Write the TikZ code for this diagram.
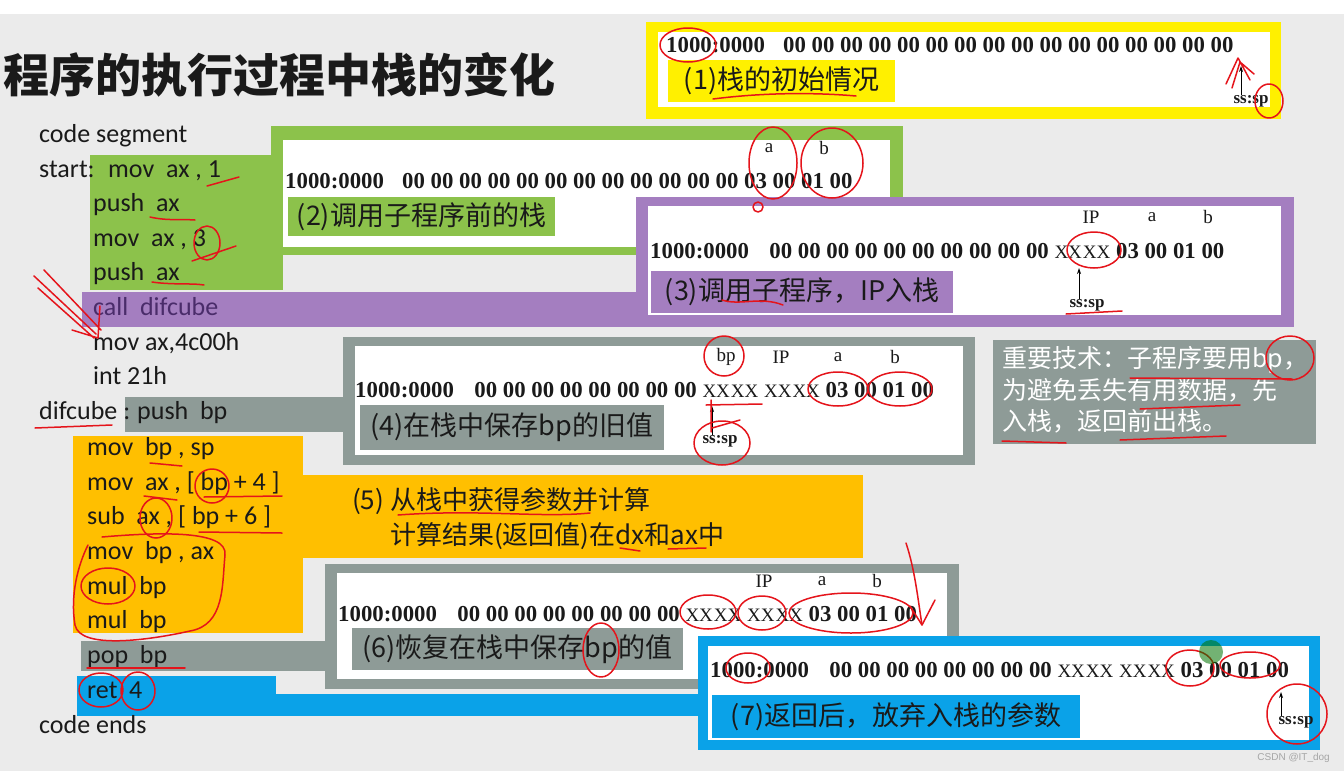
\documentclass[tikz,border=0pt]{standalone}
\usepackage{fontspec}
\setmainfont{Liberation Serif}
\newfontfamily\cjk{Noto Sans CJK SC}
\newfontfamily\codef{Carlito}
\newfontfamily\tms{Liberation Serif}
\newfontfamily\wmf{Liberation Sans}
\usetikzlibrary{arrows.meta}
\definecolor{bgc}{HTML}{EBEBEB}
\definecolor{yel}{HTML}{FFF000}
\definecolor{grn}{HTML}{8CC24B}
\definecolor{pur}{HTML}{A47EC0}
\definecolor{gry}{HTML}{8E9B97}
\definecolor{org}{HTML}{FFBF00}
\definecolor{blu}{HTML}{0AA2E8}
\definecolor{inkc}{HTML}{E5141B}
\definecolor{txt}{HTML}{1A1A1A}
\definecolor{callc}{HTML}{4A2C6A}
\newcommand\XXb{{\mdseries\fontsize{19}{22}\selectfont XX\kern1pt XX}}
\begin{document}
\begin{tikzpicture}[x=1pt,y=-1pt,
  memtxt/.style={font=\tms\bfseries\fontsize{22.8}{26}\selectfont, inner sep=0, anchor=base west, text=txt},
  tag/.style={font=\tms\fontsize{19}{22}\selectfont, inner sep=0, text=txt},
  sslab/.style={font=\tms\bfseries\fontsize{17}{20}\selectfont, inner sep=0, text=txt},
  codetxt/.style={font=\codef\fontsize{26}{30}\selectfont, inner sep=0, anchor=base west, text=txt},
  labbox/.style={font=\cjk\fontsize{27}{32}\selectfont, inner sep=0, text=txt},
  cjktxt/.style={font=\cjk\fontsize{26}{30}\selectfont, inner sep=0, anchor=base west, text=txt},
  infotxt/.style={font=\cjk\fontsize{25}{30}\selectfont, inner sep=0, anchor=base west, text=white},
  uparr/.style={draw=black, line width=0.8pt, -{Stealth[length=6pt,width=4pt]}},
  ink/.style={draw=inkc, line width=1.5pt, line cap=round, line join=round}]
\useasboundingbox (0,0) rectangle (1344,771);
\fill[white] (0,0) rectangle (1344,771);
\fill[bgc] (0,14) rectangle (1344,771);

% ---------- coloured panels ----------
% (1) yellow
\fill[yel] (646,22) rectangle (1281,119);
\fill[white] (658,32) rectangle (1270,107);
% (2) green
\fill[grn] (271,126) rectangle (903,255);
\fill[grn] (90,155) rectangle (283,290);
\fill[white] (283,140) rectangle (890,247);
% (3) purple
\fill[pur] (636,197) rectangle (1294,327);
\fill[pur] (82,292) rectangle (636,327);
\fill[white] (648,206) rectangle (1281,315);
% (4) gray
\fill[gry] (343,337) rectangle (975,465);
\fill[gry] (125,397) rectangle (343,432);
\fill[white] (355,346) rectangle (963,455);
% info box
\fill[gry] (993,340) rectangle (1316,444);
% (5) orange
\fill[org] (73,436) rectangle (303,633);
\fill[org] (303,475) rectangle (863,558);
% (6) gray
\fill[gry] (325,564) rectangle (959,689);
\fill[gry] (81,641) rectangle (325,671);
\fill[white] (337,573) rectangle (947,679);
% (7) blue
\fill[blu] (698,636) rectangle (1320,750);
\fill[blu] (77,676) rectangle (276,716);
\fill[blu] (276,694) rectangle (698,716);
\fill[white] (708,646) rectangle (1309,740);

% ---------- title ----------
\node[font=\cjk\bfseries\fontsize{46}{50}\selectfont, inner sep=0, anchor=base west, text=txt] (title) at (3,92) {程序的执行过程中栈的变化};

% ---------- code ----------
\node[codetxt] (c1) at (39,142) {code segment};
\node[codetxt] (c2a) at (39,177) {start:};
\node[codetxt] (c2) at (108,177) {mov\ \ ax , 1};
\node[codetxt] (c3) at (93,211) {push\ \ ax};
\node[codetxt] (c4) at (93,246) {mov\ \ ax , 3};
\node[codetxt] (c5) at (93,280) {push\ \ ax};
\node[codetxt, text=callc] (c6) at (93,315) {call\ \ difcube};
\node[codetxt] (c7) at (93,350) {mov ax,4c00h};
\node[codetxt] (c8) at (93,384) {int 21h};
\node[codetxt] (c9a) at (39,419) {difcube :};
\node[codetxt] (c9) at (137,419) {push\ \ bp};
\node[codetxt] (c10) at (87,455) {mov\ \ bp , sp};
\node[codetxt] (c11) at (87,490) {mov\ \ ax , [ bp + 4 ]};
\node[codetxt] (c12) at (87,524) {sub\ \ ax , [ bp + 6 ]};
\node[codetxt] (c13) at (87,559) {mov\ \ bp , ax};
\node[codetxt] (c14) at (87,594) {mul\ \ bp};
\node[codetxt] (c15) at (87,628) {mul\ \ bp};
\node[codetxt] (c16) at (87,663) {pop\ \ bp};
\node[codetxt] (c17) at (87,698) {ret\ \ 4};
\node[codetxt] (c18) at (39,733) {code ends};

% ---------- (1) ----------
\node[memtxt] (m1) at (666,52) {1000:0000\hspace{0.8em}00 00 00 00 00 00 00 00 00 00 00 00 00 00 00 00};
\node[labbox, fill=yel, minimum width=227, minimum height=42] (l1) at (781.5,81) {(1)栈的初始情况};
\node[sslab] (ss1) at (1251,101) {ss:sp};
\coordinate (t1) at (1241,66);
\draw[uparr] (ss1.north -| t1) -- (t1);

% ---------- (2) ----------
\node[memtxt] (m2) at (285,188) {1000:0000\hspace{0.8em}00 00 00 00 00 00 00 00 00 00 00 00 03 00 01 00};
\node[tag] (a2) at (769,148) {a};
\node[tag] (b2) at (824,148) {b};
\node[labbox, fill=grn, minimum width=267, minimum height=39] (l2) at (421.5,216.5) {(2)调用子程序前的栈};

% ---------- (3) ----------
\node[memtxt] (m3) at (650,258) {1000:0000\hspace{0.9em}00 00 00 00 00 00 00 00 00 00 \XXb\ 03 00 01 00};
\node[tag] (ip3) at (1091,217) {IP};
\node[tag] (a3) at (1152,217) {a};
\node[tag] (b3) at (1208,217) {b};
\node[labbox, fill=pur, minimum width=302, minimum height=42] (l3) at (802,292) {(3)调用子程序，IP入栈};
\node[sslab] (ss3) at (1087,305) {ss:sp};
\coordinate (t3) at (1079,268);
\draw[uparr] (ss3.north -| t3) -- (t3);

% ---------- (4) ----------
\node[memtxt] (m4) at (355,397) {1000:0000\hspace{0.9em}00 00 00 00 00 00 00 00 \XXb\ \XXb\ 03 00 01 00};
\node[tag] (bp4) at (726,357) {bp};
\node[tag] (ip4) at (781,357) {IP};
\node[tag] (a4) at (838,357) {a};
\node[tag] (b4) at (895,357) {b};
\node[labbox, fill=gry, minimum width=304, minimum height=45] (l4) at (512,427.5) {(4)在栈中保存bp的旧值};
\node[sslab] (ss4) at (720,441) {ss:sp};
\coordinate (t4) at (712,406);
\draw[uparr] (ss4.north -| t4) -- (t4);

% ---------- info ----------
\node[infotxt] (i1) at (1002,367) {重要技术：子程序要用bp，};
\node[infotxt] (i2) at (1002,399) {为避免丢失有用数据，先};
\node[infotxt] (i3) at (1002,430) {入栈，返回前出栈。};

% ---------- (5) ----------
\node[cjktxt] (o1) at (352,509) {(5) 从栈中获得参数并计算};
\node[cjktxt] (o2) at (390,544) {计算结果(返回值)在dx和ax中};

% ---------- (6) ----------
\node[memtxt] (m6) at (338,621) {1000:0000\hspace{0.9em}00 00 00 00 00 00 00 00 \XXb\ \XXb\ 03 00 01 00};
\node[tag] (ip6) at (764,581) {IP};
\node[tag] (a6) at (822,581) {a};
\node[tag] (b6) at (877,581) {b};
\node[labbox, fill=gry, minimum width=331, minimum height=42] (l6) at (517.5,649) {(6)恢复在栈中保存bp的值};

% ---------- (7) ----------
\node[memtxt] (m7) at (710,677) {1000:0000\hspace{0.9em}00 00 00 00 00 00 00 00 \XXb\ \XXb\ 03 00 01 00};
\node[labbox, fill=blu, minimum width=368, minimum height=43] (l7) at (896,716.5) {(7)返回后，放弃入栈的参数};
\node[sslab] (ss7) at (1296,722) {ss:sp};
\coordinate (t7) at (1281,692);
\draw[uparr] (ss7.north -| t7) -- (t7);

\node[font=\wmf\fontsize{10}{12}\selectfont, text=gray!70, inner sep=0, anchor=base east] (wm) at (1330,760) {CSDN @IT\_dog};

% ---------- red handwriting ----------
% (1)
\draw[ink] (688,45) ellipse [x radius=28, y radius=17];
\draw[ink] (1269,101) ellipse [x radius=14, y radius=17];
\draw[ink] (713,99) .. controls (760,93) and (810,92) .. (856,96);
\draw[ink] (1226,84) -- (1238,58) -- (1250,80) (1232,88) -- (1240,62) -- (1254,74);
% (2)
\draw[ink] (773,163) ellipse [x radius=24, y radius=36];
\draw[ink] (832,163) ellipse [x radius=31, y radius=35];
\draw[ink] (758,207) circle [radius=5];
% code top
\draw[ink] (207,186) -- (239,177);
\draw[ink] (150,217) .. controls (167,221) and (182,219) .. (195,220);
\draw[ink] (207,243) ellipse [x radius=13, y radius=17];
\draw[ink] (192,261) -- (236,246);
\draw[ink] (152,282) .. controls (172,285) and (192,283) .. (204,285);
\draw[ink] (34,276) -- (96,334) (44,270) -- (101,330) (38,288) -- (94,338) (72,330) -- (98,338) -- (100,306);
% (3)
\draw[ink] (1094,250) ellipse [x radius=27, y radius=18];
\draw[ink] (1066,314) -- (1122,311);
\draw[ink] (722,300) .. controls (740,306) and (760,296) .. (783,305);
% (4)
\draw[ink] (724,356) ellipse [x radius=20, y radius=20];
\draw[ink] (838,389) ellipse [x radius=30, y radius=17];
\draw[ink] (900,389) ellipse [x radius=32, y radius=17];
\draw[ink] (722,443) ellipse [x radius=28, y radius=22];
\draw[ink] (706,405) -- (762,404) (711,400) -- (711,432) (712,428) -- (740,420);
% info
\draw[ink] (1290,358) ellipse [x radius=24, y radius=22];
\draw[ink] (1130,378) -- (1292,379);
\draw[ink] (1140,409) -- (1240,405);
\draw[ink] (1002,441) -- (1066,443);
\draw[ink] (1120,440) -- (1226,436);
% code bottom
\draw[ink] (35,428) -- (112,425);
\draw[ink] (150,463) -- (182,466);
\draw[ink] (212,486) ellipse [x radius=17, y radius=17];
\draw[ink] (204,497) -- (282,496);
\draw[ink] (144,496) -- (177,500);
\draw[ink] (156,518) ellipse [x radius=16, y radius=20];
\draw[ink] (199,532) -- (282,533);
\draw[ink] (102,537) .. controls (160,532) and (228,530) .. (225,555)
  .. controls (222,585) and (225,625) .. (190,631)
  .. controls (150,640) and (80,650) .. (75,625)
  .. controls (70,595) and (78,565) .. (88,545);
\draw[ink] (108,586) ellipse [x radius=27, y radius=18];
\draw[ink] (87,668) -- (185,668);
\draw[ink] (101,690) ellipse [x radius=22, y radius=17];
\draw[ink] (138,691) ellipse [x radius=17, y radius=19];
% (5)
\draw[ink] (398,515) .. controls (480,509) and (540,518) .. (590,513);
\draw[ink] (620,548) -- (640,551);
\draw[ink] (668,549) -- (706,548);
% (6)
\draw[ink] (708,612) ellipse [x radius=28, y radius=17];
\draw[ink] (762,613) ellipse [x radius=24, y radius=17];
\draw[ink] (851,613) ellipse [x radius=62, y radius=20];
\draw[ink] (601,650) ellipse [x radius=18, y radius=27];
\draw[ink] (906,543) .. controls (915,570) and (918,600) .. (922,625);
\draw[ink] (922,625) -- (935,600) (922,625) -- (910,606);
% (7)
\draw[ink] (748,668) ellipse [x radius=22, y radius=15];
\draw[ink] (1190,668) ellipse [x radius=24, y radius=18];
\draw[ink] (1250,665) ellipse [x radius=30, y radius=13];
\draw[ink] (1297,714) ellipse [x radius=30, y radius=30];
\fill[green!45!black, opacity=0.55] (1211,652) circle [radius=12];
\end{tikzpicture}
\end{document}
